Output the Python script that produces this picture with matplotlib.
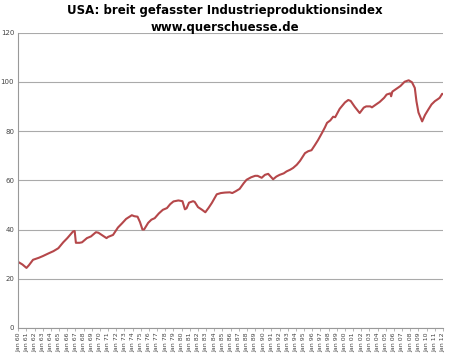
import matplotlib
matplotlib.use('Agg')
import matplotlib.pyplot as plt
import numpy as np

plt.rcParams['font.family'] = ['DejaVu Sans']

# Werte (Jahr als Dezimalzahl, Indexwert)
years = [1960.0, 1960.5, 1961.0, 1961.3, 1961.8, 1962.5, 1963.0, 1963.7, 1964.3, 1964.9,
         1965.5, 1966.0, 1966.7, 1966.9, 1967.05, 1967.5, 1967.8, 1968.4, 1968.9, 1969.5,
         1969.8, 1970.3, 1970.8, 1971.0, 1971.6, 1972.2, 1972.7, 1973.2, 1973.9, 1974.2,
         1974.6, 1974.9, 1975.2, 1975.4, 1975.9, 1976.3, 1976.7, 1977.2, 1977.7, 1978.2,
         1978.6, 1979.0, 1979.6, 1980.1, 1980.4, 1980.6, 1980.9, 1981.4, 1981.6, 1982.0,
         1982.5, 1982.9, 1983.3, 1983.7, 1984.3, 1984.8, 1985.3, 1985.9, 1986.2, 1986.6,
         1987.1, 1987.6, 1987.95, 1988.5, 1989.0, 1989.3, 1989.8, 1990.2, 1990.6, 1990.9,
         1991.2, 1991.6, 1992.0, 1992.5, 1992.85, 1993.3, 1993.65, 1994.1, 1994.5, 1995.1,
         1995.5, 1995.9, 1996.3, 1996.7, 1997.2, 1997.55, 1997.8, 1998.2, 1998.55, 1998.8,
         1999.35, 2000.0, 2000.4, 2000.7, 2001.2, 2001.8, 2002.3, 2002.6, 2003.1, 2003.3,
         2003.9, 2004.25, 2004.8, 2005.1, 2005.55, 2005.65, 2005.8, 2006.5, 2006.8, 2007.3,
         2007.8, 2008.2, 2008.55, 2008.75, 2009.0, 2009.45, 2009.8, 2010.2, 2010.6, 2011.0,
         2011.4, 2011.6, 2011.9, 2012.0]
index = [26.8, 25.8, 24.4, 25.5, 27.7, 28.5, 29.2, 30.3, 31.2, 32.4,
         34.8, 36.5, 39.2, 39.4, 34.6, 34.6, 34.8, 36.5, 37.2, 38.9,
         38.7, 37.6, 36.5, 37.0, 37.8, 40.8, 42.5, 44.3, 45.8, 45.4,
         45.2, 43.0, 40.0, 40.0, 42.7, 44.0, 44.6, 46.5, 48.0, 48.7,
         50.3, 51.4, 51.8, 51.5, 48.2, 48.6, 50.9, 51.5, 51.2, 49.1,
         48.0, 47.0, 48.8, 50.8, 54.3, 54.8, 55.0, 55.1, 54.8, 55.5,
         56.5, 58.8, 60.2, 61.2, 61.8, 61.8, 61.0, 62.2, 62.6, 61.5,
         60.4, 61.5, 62.2, 62.8, 63.6, 64.3, 65.0, 66.3, 67.9, 71.0,
         71.8, 72.2, 74.2, 76.3, 79.3, 81.5, 83.3, 84.3, 85.8, 85.6,
         89.0, 91.6, 92.6, 92.2, 89.8, 87.3, 89.5, 90.0, 90.0, 89.6,
         91.0, 91.8, 93.5, 94.8, 95.3, 94.1, 96.0, 97.6, 98.3, 100.0,
         100.6, 99.8, 97.5, 92.1, 87.5, 83.9, 86.5, 88.7, 90.8, 92.1,
         93.0, 93.5, 95.1, 95.0]

tick_years = list(range(1960, 2013))
tick_labels = ['Jan %02d' % (y % 100) for y in tick_years]

fig = plt.figure(figsize=(4.5, 3.58), dpi=100)
ax = fig.add_axes([0.0407, 0.0838, 0.9437, 0.8254])

ax.plot(years, index, color='#b5474a', linewidth=1.5, solid_joinstyle='round')

ax.set_xlim(1960, 2012)
ax.set_ylim(0, 120)
ax.set_yticks(np.arange(0, 121, 20))
ax.set_xticks(tick_years)
ax.set_xticklabels(tick_labels, rotation=90, fontsize=4.5, color='#444444')
ax.tick_params(axis='y', labelsize=5, colors='#444444', length=0, pad=3)
ax.tick_params(axis='x', length=2, width=0.5, color='#999999', pad=1)

ax.grid(axis='y', color='#aaaaaa', linewidth=0.8)
ax.set_axisbelow(True)
for s in ['top', 'right']:
    ax.spines[s].set_visible(False)
for s in ['left', 'bottom']:
    ax.spines[s].set_color('#999999')
    ax.spines[s].set_linewidth(0.8)

fig.text(0.5, 0.99, 'USA: breit gefasster Industrieproduktionsindex', ha='center', va='top',
         fontsize=8.5, fontweight='bold')
fig.text(0.5, 0.94, 'www.querschuesse.de', ha='center', va='top',
         fontsize=8.5, fontweight='bold')

fig.savefig('out.png', dpi=100, facecolor='white')
